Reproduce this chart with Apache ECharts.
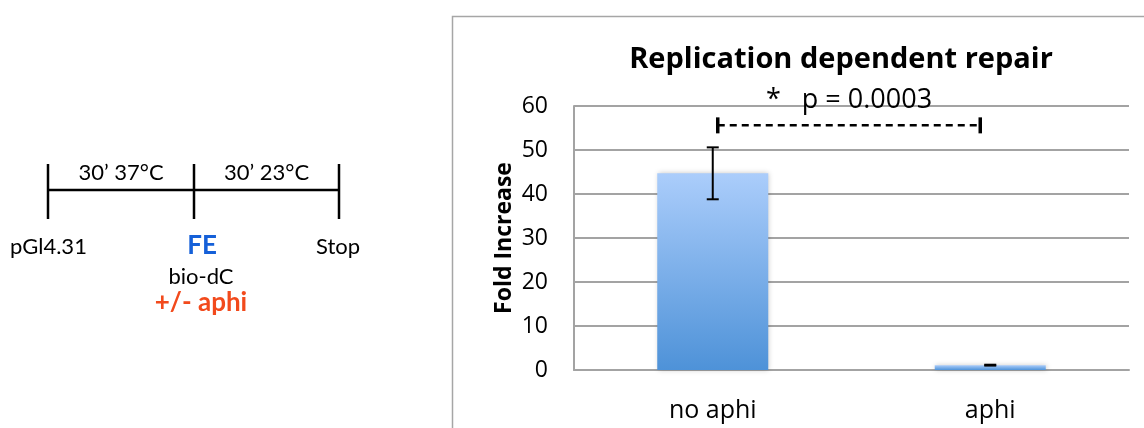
<!DOCTYPE html>
<html>
<head>
<meta charset="utf-8">
<script src="https://cdn.jsdelivr.net/npm/echarts@6/dist/echarts.min.js"></script>
<style>
  html, body { margin: 0; padding: 0; background: #ffffff; }
  #chart { width: 1144px; height: 428px; }
</style>
</head>
<body>
<div id="chart"></div>
<script>
// Fold increase of biotin-dC incorporation with and without aphidicolin
const categories = ['no aphi', 'aphi'];
const foldIncrease = [44.7, 1.1];
const errorAmount = [5.9, 0.1];
const yTicks = [0, 10, 20, 30, 40, 50, 60];
const significanceText = '*   p = 0.0003';
const bracketLevel = 55.6;

// Timeline of the assay, shown to the left of the chart
const stepLabels = ["30\u2019 37\u00B0C", "30\u2019 23\u00B0C"];
const stageLabels = ['pGl4.31', 'FE', 'Stop'];
const additionLabels = ['bio-dC', '+/- aphi'];

const chart = echarts.init(document.getElementById('chart'));

const ink = '#000000';
const gridGrey = '#a3a3a3';
const diagramFont = 'Lato, "Open Sans", sans-serif';
const chartFont = '"Open Sans", "Noto Sans", sans-serif';

// timeline geometry
const tlY = 190, tlTop = 164, tlBottom = 219;
const tlX = [48, 194, 339];

const diagram = [
  { type: 'line', shape: { x1: tlX[0], y1: tlY, x2: tlX[2], y2: tlY }, style: { stroke: ink, lineWidth: 2.5 } }
];
tlX.forEach(function (x) {
  diagram.push({ type: 'line', shape: { x1: x, y1: tlTop, x2: x, y2: tlBottom }, style: { stroke: ink, lineWidth: 2.5 } });
});
diagram.push(
  { type: 'text', x: (tlX[0] + tlX[1]) / 2, y: 173, style: { text: stepLabels[0], font: '22px ' + diagramFont, fill: ink, align: 'center', verticalAlign: 'middle' } },
  { type: 'text', x: (tlX[1] + tlX[2]) / 2, y: 173, style: { text: stepLabels[1], font: '22px ' + diagramFont, fill: ink, align: 'center', verticalAlign: 'middle' } },
  { type: 'text', x: 10, y: 247, style: { text: stageLabels[0], font: '22px ' + diagramFont, fill: ink, align: 'left', verticalAlign: 'middle' } },
  { type: 'text', x: 202, y: 246, style: { text: stageLabels[1], font: 'bold 26px ' + diagramFont, fill: '#1560d8', align: 'center', verticalAlign: 'middle' } },
  { type: 'text', x: 338, y: 247, style: { text: stageLabels[2], font: '22px ' + diagramFont, fill: ink, align: 'center', verticalAlign: 'middle' } },
  { type: 'text', x: 201, y: 277, style: { text: additionLabels[0], font: '22px ' + diagramFont, fill: ink, align: 'center', verticalAlign: 'middle' } },
  { type: 'text', x: 201, y: 303, style: { text: additionLabels[1], font: 'bold 26px ' + diagramFont, fill: '#f24a1c', align: 'center', verticalAlign: 'middle' } },
  // chart frame
  { type: 'rect', shape: { x: 452.5, y: 16.5, width: 800, height: 500 }, style: { fill: 'none', stroke: '#a6a6a6', lineWidth: 1.5 }, z: -1 }
);

const option = {
  backgroundColor: '#ffffff',
  animation: false,
  title: {
    text: 'Replication dependent repair',
    left: 836,
    top: 40,
    textAlign: 'center',
    textStyle: { fontFamily: chartFont, fontWeight: 'bold', fontSize: 29, color: ink }
  },
  grid: { left: 574, right: 15, top: 106, bottom: 58, containLabel: false },
  xAxis: {
    type: 'category',
    data: categories,
    axisLine: { lineStyle: { color: gridGrey, width: 2 } },
    axisTick: { show: false },
    axisLabel: { color: ink, fontFamily: chartFont, fontSize: 25, margin: 28 }
  },
  yAxis: {
    type: 'value',
    min: yTicks[0],
    max: yTicks[yTicks.length - 1],
    interval: yTicks[1] - yTicks[0],
    name: 'Fold Increase',
    nameLocation: 'middle',
    nameGap: 58,
    nameTextStyle: { color: ink, fontFamily: chartFont, fontWeight: 'bold', fontSize: 23 },
    axisLine: { show: true, lineStyle: { color: gridGrey, width: 2 } },
    axisTick: { show: false },
    axisLabel: { color: ink, fontFamily: chartFont, fontSize: 23, margin: 26 },
    splitLine: { lineStyle: { color: gridGrey, width: 2 } }
  },
  graphic: diagram,
  series: [
    {
      type: 'bar',
      data: foldIncrease,
      barWidth: '40%',
      itemStyle: {
        color: new echarts.graphic.LinearGradient(0, 0, 0, 1, [
          { offset: 0, color: '#abcdfb' },
          { offset: 1, color: '#4e92d8' }
        ]),
        shadowBlur: 5,
        shadowColor: 'rgba(0,0,0,0.22)',
        shadowOffsetX: 1
      },
      z: 2
    },
    {
      // standard-deviation error bars
      type: 'custom',
      data: foldIncrease.map(function (v, i) { return [i, v - errorAmount[i], v + errorAmount[i]]; }),
      z: 5,
      renderItem: function (params, api) {
        const lo = api.coord([api.value(0), api.value(1)]);
        const hi = api.coord([api.value(0), api.value(2)]);
        const half = 6;
        const st = { stroke: ink, lineWidth: 2 };
        return {
          type: 'group',
          children: [
            { type: 'line', shape: { x1: hi[0], y1: hi[1], x2: lo[0], y2: lo[1] }, style: st },
            { type: 'line', shape: { x1: hi[0] - half, y1: hi[1], x2: hi[0] + half, y2: hi[1] }, style: st },
            { type: 'line', shape: { x1: lo[0] - half, y1: lo[1], x2: lo[0] + half, y2: lo[1] }, style: st }
          ]
        };
      }
    },
    {
      // significance bracket between the two conditions
      type: 'custom',
      data: [[0, bracketLevel]],
      z: 6,
      renderItem: function (params, api) {
        const a = api.coord([0, api.value(1)]);
        const b = api.coord([1, api.value(1)]);
        const x1 = a[0] + 5, x2 = b[0] - 10, y = a[1];
        return {
          type: 'group',
          children: [
            { type: 'line', shape: { x1: x1, y1: y, x2: x2, y2: y }, style: { stroke: ink, lineWidth: 2.5, lineDash: [7, 5] } },
            { type: 'line', shape: { x1: x1, y1: y - 8, x2: x1, y2: y + 8 }, style: { stroke: ink, lineWidth: 3.5 } },
            { type: 'line', shape: { x1: x2, y1: y - 8, x2: x2, y2: y + 8 }, style: { stroke: ink, lineWidth: 3.5 } },
            { type: 'text', x: (x1 + x2) / 2, y: y - 25, style: { text: significanceText, font: '27px ' + chartFont, fill: ink, align: 'center', verticalAlign: 'middle' } }
          ]
        };
      }
    }
  ]
};

chart.setOption(option);
</script>
</body>
</html>
